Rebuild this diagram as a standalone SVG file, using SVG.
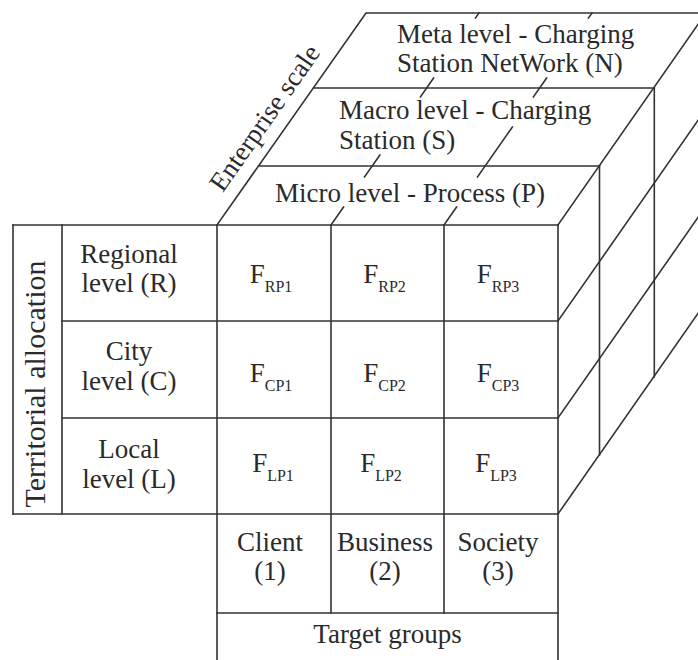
<svg xmlns="http://www.w3.org/2000/svg" width="698" height="660" viewBox="0 0 698 660">
<style>
.ln{stroke:#333;stroke-width:1.6;fill:none;stroke-linecap:square}
.t{font-family:"Liberation Serif","Times New Roman",serif;font-size:27px;fill:#2a2a2a}
.m{text-anchor:middle}
.sub{font-size:16px}
</style>
<rect width="698" height="660" fill="#fff"/>
<g id="connectors">
<!-- left panel -->
<path class="ln" d="M13 225H558M62 321H558M62 418H558M13 514H558M217 613H558"/>
<path class="ln" d="M13 225V514M62 225V514M217 225V660M331 225V613M444 225V613M558 225V660"/>
<!-- top faces -->
<path class="ln" d="M217 225L366 13H700M258.5 166H599.5M313.3 88H654.3"/>
<!-- right face -->
<path class="ln" d="M558 225L706 13M558 321L706 109M558 418L706 206M558 514L706 302"/>
<path class="ln" d="M599.5 166V455M654.3 88V377"/>
<!-- top face column line fragments -->
<path class="ln" d="M331 225L343.6 207M364.5 177L379.9 155M420.4 97L433.6 78M475.5 18L479 13"/>
<path class="ln" d="M444 225L456.6 207M477.5 177L512.4 127M533.4 97L546.6 78M588.5 18L592 13"/>
</g>
<g id="meta"><text class="t" x="397" y="43">Meta level - Charging</text><text class="t" x="397" y="72">Station NetWork (N)</text></g>
<g id="macro"><text class="t" x="339" y="119">Macro level - Charging</text><text class="t" x="339" y="149">Station (S)</text></g>
<g id="micro"><text class="t" x="275" y="202">Micro level - Process (P)</text></g>
<g id="enterprise-scale"><text class="t m" transform="translate(272 123) rotate(-55)">Enterprise scale</text></g>
<g id="territorial-allocation"><text class="t m" style="font-size:30px" transform="translate(45 384) rotate(-90)">Territorial allocation</text></g>
<g id="regional"><text class="t m" x="129" y="263">Regional</text><text class="t m" x="129" y="292">level (R)</text></g>
<g id="city"><text class="t m" x="129" y="360">City</text><text class="t m" x="129" y="390">level (C)</text></g>
<g id="local"><text class="t m" x="129" y="458">Local</text><text class="t m" x="129" y="488">level (L)</text></g>
<g id="FRP1"><text class="t m" x="271" y="283">F<tspan class="sub" dy="9">RP1</tspan></text></g>
<g id="FRP2"><text class="t m" x="384.5" y="283">F<tspan class="sub" dy="9">RP2</tspan></text></g>
<g id="FRP3"><text class="t m" x="498" y="283">F<tspan class="sub" dy="9">RP3</tspan></text></g>
<g id="FCP1"><text class="t m" x="271" y="382">F<tspan class="sub" dy="9">CP1</tspan></text></g>
<g id="FCP2"><text class="t m" x="384.5" y="382">F<tspan class="sub" dy="9">CP2</tspan></text></g>
<g id="FCP3"><text class="t m" x="498" y="382">F<tspan class="sub" dy="9">CP3</tspan></text></g>
<g id="FLP1"><text class="t m" x="273" y="472">F<tspan class="sub" dy="9">LP1</tspan></text></g>
<g id="FLP2"><text class="t m" x="381" y="472">F<tspan class="sub" dy="9">LP2</tspan></text></g>
<g id="FLP3"><text class="t m" x="496" y="472">F<tspan class="sub" dy="9">LP3</tspan></text></g>
<g id="client"><text class="t m" x="270" y="551">Client</text><text class="t m" x="270" y="580">(1)</text></g>
<g id="business"><text class="t m" x="385" y="551">Business</text><text class="t m" x="385" y="580">(2)</text></g>
<g id="society"><text class="t m" x="498" y="551">Society</text><text class="t m" x="498" y="580">(3)</text></g>
<g id="target-groups"><text class="t m" x="387.5" y="643">Target groups</text></g>
</svg>
